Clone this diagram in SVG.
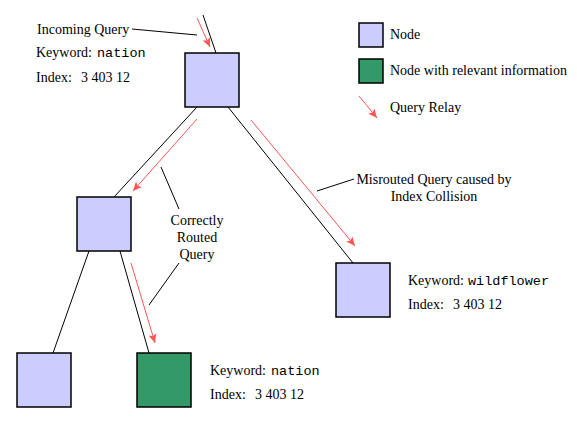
<svg xmlns="http://www.w3.org/2000/svg" width="577" height="423" viewBox="0 0 577 423">
<style>
.node{fill:#ccccff;stroke:#000;stroke-width:1.5}
.rel{fill:#339966;stroke:#000;stroke-width:1.5}
.edge{stroke:#000;stroke-width:1;fill:none}
.relay{stroke:#ff5555;stroke-width:1;fill:none;marker-end:url(#ah)}
text{font-family:"Liberation Serif","Times New Roman",serif;font-size:14px;fill:#000}
.mono{font-family:"Liberation Mono","Courier New",monospace;font-size:13.5px}
</style>
<defs>
<marker id="ah" markerUnits="userSpaceOnUse" markerWidth="10" markerHeight="10" viewBox="0 0 10 10" refX="9" refY="5" orient="auto">
<path d="M0,1 L9,5 L0,9 L2,5 Z" fill="#ff5555"/>
</marker>
</defs>
<rect width="577" height="423" fill="#fff"/>
<g id="connectors">
<line class="edge" x1="203" y1="15" x2="216" y2="53"/>
<line class="edge" x1="197" y1="107" x2="114" y2="197"/>
<line class="edge" x1="228" y1="107" x2="353" y2="263"/>
<line class="edge" x1="89" y1="251" x2="53" y2="353"/>
<line class="edge" x1="120" y1="251" x2="149" y2="353"/>
<path class="relay" d="M197,18 L210,47"/>
<path class="relay" d="M197,119 L133,191"/>
<path class="relay" d="M251,120 L355,246"/>
<path class="relay" d="M131,263 L155,343"/>
<path class="edge" d="M132,29 L197,35"/>
<path class="edge" d="M317,191 L354,179"/>
<path class="edge" d="M161,167 L179,209"/>
<path class="edge" d="M179,263 L149,305"/>
</g>
<g id="n-top"><rect class="node" x="185" y="53" width="54" height="54"/></g>
<g id="n-mid"><rect class="node" x="77" y="197" width="54" height="54"/></g>
<g id="n-right"><rect class="node" x="336" y="263" width="54" height="54"/></g>
<g id="n-bl"><rect class="node" x="17" y="353" width="54" height="54"/></g>
<g id="n-green"><rect class="rel" x="137" y="353" width="54" height="54"/></g>
<g id="legend">
<rect class="node" x="359" y="23" width="24" height="24"/>
<text x="390" y="39">Node</text>
<rect class="rel" x="359" y="59" width="24" height="24"/>
<text x="390" y="75">Node with relevant information</text>
<path class="relay" d="M359,96 L377,118"/>
<text x="390" y="112">Query Relay</text>
</g>
<g id="labels">
<text x="37" y="34">Incoming Query</text>
<text x="36" y="57">Keyword:<tspan class="mono" x="97">nation</tspan></text>
<text x="36" y="82">Index:<tspan x="81">3 403 12</tspan></text>
<text x="434" y="184" text-anchor="middle">Misrouted Query caused by</text>
<text x="434" y="201" text-anchor="middle">Index Collision</text>
<text x="197" y="225" text-anchor="middle">Correctly</text>
<text x="197" y="242" text-anchor="middle">Routed</text>
<text x="197" y="259" text-anchor="middle">Query</text>
<text x="408" y="285">Keyword:<tspan class="mono" x="468">wildflower</tspan></text>
<text x="408" y="309">Index:<tspan x="453">3 403 12</tspan></text>
<text x="210" y="375">Keyword:<tspan class="mono" x="271">nation</tspan></text>
<text x="210" y="399">Index:<tspan x="255">3 403 12</tspan></text>
</g>
</svg>
